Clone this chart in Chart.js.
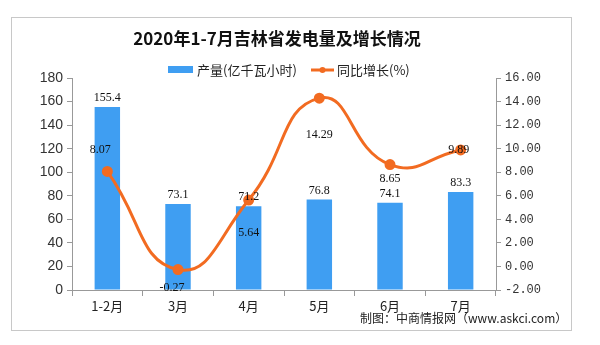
<!DOCTYPE html>
<html>
<head>
<meta charset="utf-8">
<script src="https://cdn.jsdelivr.net/npm/chart.js@4"></script>
<style>
  html, body { margin: 0; padding: 0; background: #fff; }
</style>
</head>
<body>
<canvas id="chart" width="600" height="345"></canvas>
<script>
const categories = ['1-2月', '3月', '4月', '5月', '6月', '7月']
const output = [155.4, 73.1, 71.2, 76.8, 74.1, 83.3]
const growth = [8.07, -0.27, 5.64, 14.29, 8.65, 9.89]
const title = '2020年1-7月吉林省发电量及增长情况'
const seriesNames = ['产量(亿千瓦小时)', '同比增长(%)']
const sourceText = '制图：中商情报网（www.askci.com）'

const BAR_COLOR = '#3f9ef2'
const LINE_COLOR = '#f26b21'
const CJK = "'Noto Sans CJK SC', sans-serif"

// label offsets for the growth labels, picked to match the picture
const lineLabelShift = [[-7, -22], [-6, 18], [0, 33], [0, 37], [0, 14], [-2, 0]]

const decor = {
  id: 'decor',
  beforeDraw(chart) {
    const ctx = chart.ctx
    ctx.save()
    ctx.fillStyle = '#fff'
    ctx.fillRect(0, 0, chart.width, chart.height)
    ctx.strokeStyle = '#c8c8c8'
    ctx.lineWidth = 1
    ctx.strokeRect(11.5, 17.5, 560, 313)
    ctx.restore()
  },
  afterDraw(chart) {
    const ctx = chart.ctx
    ctx.save()
    ctx.textBaseline = 'middle'
    ctx.fillStyle = '#111'
    ctx.textAlign = 'center'
    ctx.font = "bold 17px " + CJK
    ctx.fillText(title, 277, 39)

    // legend
    ctx.font = "13px " + CJK
    ctx.textAlign = 'left'
    ctx.fillStyle = BAR_COLOR
    ctx.fillRect(168, 66, 25, 7)
    ctx.fillStyle = '#222'
    ctx.fillText(seriesNames[0], 197, 70)
    ctx.strokeStyle = LINE_COLOR
    ctx.lineWidth = 3
    ctx.beginPath()
    ctx.moveTo(311, 70)
    ctx.lineTo(334, 70)
    ctx.stroke()
    ctx.fillStyle = LINE_COLOR
    ctx.beginPath()
    ctx.arc(322.5, 70, 3, 0, Math.PI * 2)
    ctx.fill()
    ctx.fillStyle = '#222'
    ctx.fillText(seriesNames[1], 337, 70)

    ctx.font = "12px " + CJK
    ctx.fillText(sourceText, 360, 318)
    ctx.restore()
  },
  afterDatasetsDraw(chart) {
    const ctx = chart.ctx
    ctx.save()
    ctx.fillStyle = '#111'
    ctx.textAlign = 'center'
    ctx.textBaseline = 'middle'
    ctx.font = "12px 'Liberation Serif', serif"
    chart.getDatasetMeta(1).data.forEach((bar, i) => {
      ctx.fillText(output[i].toFixed(1), bar.x, bar.y - 9)
    })
    chart.getDatasetMeta(0).data.forEach((pt, i) => {
      const s = lineLabelShift[i]
      ctx.fillText(growth[i].toFixed(2), pt.x + s[0], pt.y + s[1])
    })
    ctx.restore()
  }
}

new Chart(document.getElementById('chart'), {
  data: {
    labels: categories,
    datasets: [
      {
        type: 'line',
        label: seriesNames[1],
        data: growth,
        yAxisID: 'y1',
        borderColor: LINE_COLOR,
        backgroundColor: LINE_COLOR,
        borderWidth: 3,
        tension: 0.5,
        pointRadius: 4,
        pointHoverRadius: 4,
        order: 0
      },
      {
        type: 'bar',
        label: seriesNames[0],
        data: output,
        yAxisID: 'y',
        backgroundColor: BAR_COLOR,
        barPercentage: 0.36,
        categoryPercentage: 1,
        order: 1
      }
    ]
  },
  options: {
    responsive: false,
    animation: false,
    layout: { padding: { top: 78, left: 0, right: 0, bottom: 0 } },
    plugins: {
      legend: { display: false },
      title: { display: false },
      tooltip: { enabled: false }
    },
    scales: {
      x: {
        grid: { display: true, drawOnChartArea: false, tickLength: 6, color: '#999', offset: true },
        border: { color: '#999' },
        ticks: { color: '#222', font: { family: CJK, size: 13 }, padding: 2 },
        afterFit(scale) { scale.height = 55 }
      },
      y: {
        position: 'left',
        min: 0,
        max: 180,
        ticks: { stepSize: 20, color: '#333', font: { family: "'Liberation Sans', sans-serif", size: 14 }, padding: 4 },
        grid: { display: true, drawOnChartArea: false, tickLength: 5, color: '#999' },
        border: { color: '#999' },
        afterFit(scale) { scale.width = 72 }
      },
      y1: {
        position: 'right',
        min: -2,
        max: 16,
        ticks: {
          stepSize: 2,
          color: '#333',
          font: { family: "'Liberation Mono', monospace", size: 12 },
          padding: 4,
          callback: v => v.toFixed(2)
        },
        grid: { display: true, drawOnChartArea: false, tickLength: 5, color: '#999' },
        border: { color: '#999' },
        afterFit(scale) { scale.width = 104 }
      }
    }
  },
  plugins: [decor]
})
</script>
</body>
</html>
